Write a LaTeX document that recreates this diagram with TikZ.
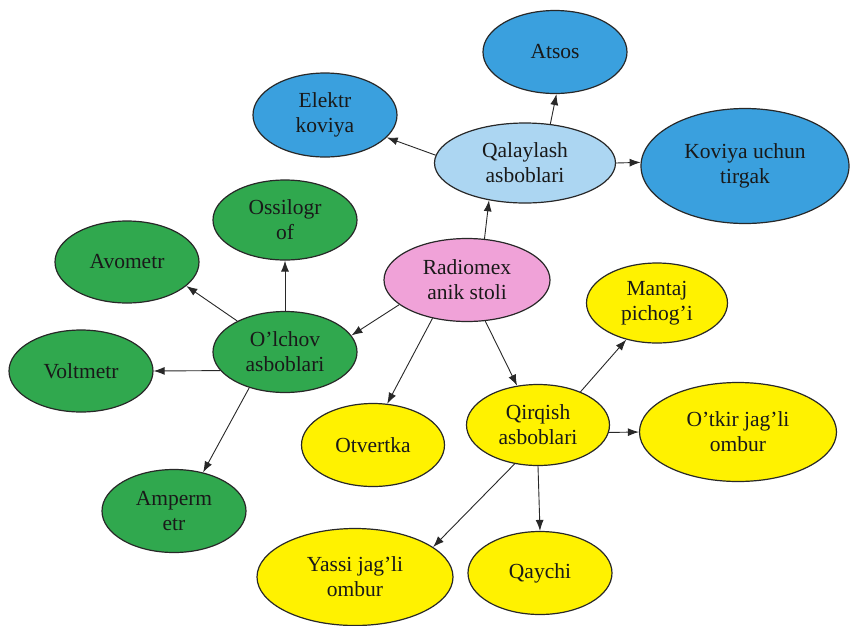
\documentclass[tikz,border=0pt]{standalone}
\usepackage{fontspec}
\setmainfont{Liberation Serif}
\usetikzlibrary{shapes.geometric, arrows.meta}
\definecolor{toolblue}{RGB}{58,160,222}
\definecolor{toollight}{RGB}{172,214,242}
\definecolor{toolgreen}{RGB}{48,168,78}
\definecolor{toolpink}{RGB}{240,162,216}
\definecolor{toolyellow}{RGB}{255,242,0}
\definecolor{inkline}{RGB}{40,40,40}
\tikzstyle{tool} = [ellipse, draw=inkline, line width=1.2pt, inner sep=0pt, minimum width=144pt, minimum height=82pt, align=center, text=black!90, font=\fontsize{21.5}{25}\selectfont]
\tikzstyle{bluetool} = [tool, fill=toolblue]
\tikzstyle{lighttool} = [tool, fill=toollight]
\tikzstyle{greentool} = [tool, fill=toolgreen]
\tikzstyle{pinktool} = [tool, fill=toolpink]
\tikzstyle{yellowtool} = [tool, fill=toolyellow]
\tikzstyle{arrow} = [line width=0.9pt, draw=inkline, -{Latex[length=11pt,width=8pt]}]

\begin{document}
\begin{tikzpicture}[x=1pt, y=-1pt]
		\useasboundingbox (0,0) rectangle (852,625);
		
		% Centre node
		\node (radio) [pinktool, minimum width=166pt, minimum height=83pt] at (467,280) {Radiomex\\anik stoli};
		
		% Nodes for soldering tools
		\node (qalay) [lighttool, minimum width=181pt, minimum height=80pt] at (525,163) {Qalaylash\\asboblari};
		\node (atsos) [bluetool, minimum height=83pt] at (555,52) {Atsos};
		\node (elektr) [bluetool, minimum height=84pt] at (325,115) {Elektr\\koviya};
		\node (koviya) [bluetool, minimum width=208pt, minimum height=115pt] at (745,166) {Koviya uchun\\tirgak};
		
		% Nodes for measuring tools
		\node (olchov) [greentool, minimum height=81pt] at (285,352) {O’lchov\\asboblari};
		\node (ossil) [greentool, minimum height=80pt] at (285,220) {Ossilogr\\of};
		\node (avometr) [greentool] at (127,262) {Avometr};
		\node (voltmetr) [greentool] at (81,371) {Voltmetr};
		\node (amperm) [greentool, minimum height=83pt] at (174,511) {Amperm\\etr};
		
		% Nodes for cutting tools
		\node (otvertka) [yellowtool, minimum width=143pt, minimum height=83pt] at (373,445) {Otvertka};
		\node (qirqish) [yellowtool, minimum width=143pt, minimum height=81pt] at (538,425) {Qirqish\\asboblari};
		\node (mantaj) [yellowtool, minimum width=141pt, minimum height=80pt] at (657,303) {Mantaj\\pichog’i};
		\node (otkir) [yellowtool, minimum width=197pt, minimum height=99pt] at (738,432) {O’tkir jag’li\\ombur};
		\node (yassi) [yellowtool, minimum width=196pt, minimum height=97pt] at (355,577) {Yassi jag’li\\ombur};
		\node (qaychi) [yellowtool, minimum height=83pt] at (540,573) {Qaychi};
		
		% Arrows from centre
		\draw [arrow] (radio.67) -- (qalay.226);
		\draw [arrow] (radio.200) -- (olchov.14);
		\draw [arrow] (radio.228) -- (otvertka.71);
		\draw [arrow] (radio.294) -- (qirqish.118);
		
		% Arrows for soldering tools
		\draw [arrow] (qalay.57) -- (atsos.272);
		\draw [arrow] (qalay.175) -- (elektr.340);
		\draw [arrow] (qalay.east) -- (koviya.178);
		
		% Arrows for measuring tools
		\draw [arrow] (olchov.north) -- (ossil.south);
		\draw [arrow] (olchov.147) -- (avometr.338);
		\draw [arrow] (olchov.196) -- (voltmetr.east);
		\draw [arrow] (olchov.225) -- (amperm.53);
		
		% Arrows for cutting tools
		\draw [arrow] (qirqish.38) -- (mantaj.230);
		\draw [arrow] (qirqish.354) -- (otkir.west);
		\draw [arrow] (qirqish.south) -- (qaychi.north);
		\draw [arrow] (qirqish.239) -- (yassi.21);
		
	\end{tikzpicture}
\end{document}
